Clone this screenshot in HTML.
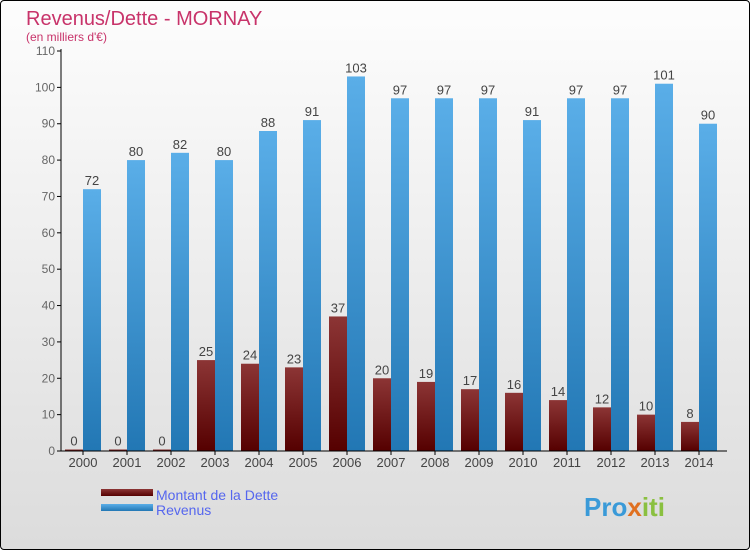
<!DOCTYPE html>
<html><head><meta charset="utf-8"><style>
body{margin:0}
#c{position:relative;width:748px;height:548px;border:1px solid #000;border-radius:4px;background:linear-gradient(#fdfdfd,#dcdcdc);overflow:hidden;font-family:"Liberation Sans",sans-serif}
</style></head><body>
<div id="c">
<svg width="748" height="548" id="s">
<defs>
<linearGradient id="gb" x1="0" y1="0" x2="0" y2="1"><stop offset="0" stop-color="#5aaee8"/><stop offset="1" stop-color="#2277b4"/></linearGradient>
<linearGradient id="gr" x1="0" y1="0" x2="0" y2="1"><stop offset="0" stop-color="#8c3535"/><stop offset="1" stop-color="#550000"/></linearGradient>
</defs>
<text x="25" y="24" font-size="20" fill="#c8336a">Revenus/Dette - MORNAY</text>
<text x="25" y="40" font-size="12" fill="#c8336a">(en milliers d'€)</text>
<g id="g"></g>
<rect x="100" y="488" width="52" height="7" fill="url(#gr)"/>
<rect x="100" y="503" width="52" height="7" fill="url(#gb)"/>
<text x="155" y="499" font-size="14" fill="#5566ee">Montant de la Dette</text>
<text x="155" y="514" font-size="14" fill="#5566ee">Revenus</text>
<text x="583" y="515" font-size="26" font-weight="bold" fill="#3a9ad8">Pro<tspan fill="#e07020">x</tspan><tspan fill="#8ac040">iti</tspan></text>
</svg>
</div>
<script>
const years=["2000","2001","2002","2003","2004","2005","2006","2007","2008","2009","2010","2011","2012","2013","2014"];
const dette=[0,0,0,25,24,23,37,20,19,17,16,14,12,10,8];
const revenus=[72,80,82,80,88,91,103,97,97,97,91,97,97,101,90];
const ticks=[0,10,20,30,40,50,60,70,80,90,100,110];
const NS="http://www.w3.org/2000/svg",g=document.getElementById('g');
const y=v=>450-v*400/110, cx=i=>82+i*44;
function mk(t,a,txt){const e=document.createElementNS(NS,t);for(const k in a)e.setAttribute(k,a[k]);if(txt!==undefined)e.textContent=txt;g.appendChild(e);return e;}
ticks.forEach(t=>{
const l=mk('line',{x1:56,x2:60,y1:y(t),y2:y(t),stroke:'#000'});


const tx=mk('text',{x:54,y:y(t)+4,'font-size':12,fill:'#666','text-anchor':'end'},t);


});
years.forEach((yr,i)=>{
const c=cx(i);
const hd=Math.max(dette[i]*400/110,1.5);
const b1=mk('rect',{x:c-18,y:450-hd,width:18,height:hd,fill:'url(#gr)'});


const b2=mk('rect',{x:c,y:y(revenus[i]),width:18,height:revenus[i]*400/110,fill:'url(#gb)'});


const l1=mk('text',{x:c-9,y:450-hd-4,'font-size':13,fill:'#444','text-anchor':'middle'},dette[i]);


const l2=mk('text',{x:c+9,y:y(revenus[i])-4,'font-size':13,fill:'#444','text-anchor':'middle'},revenus[i]);


const tk=mk('line',{x1:c,x2:c,y1:450,y2:454,stroke:'#000'});


const xl=mk('text',{x:c,y:466,'font-size':13,fill:'#444','text-anchor':'middle'},yr);


});
const ya=mk('line',{x1:60,x2:60,y1:48,y2:450,stroke:'#000'});


const xa=mk('line',{x1:60,x2:726,y1:450,y2:450,stroke:'#000'});


</script>
</body></html>
